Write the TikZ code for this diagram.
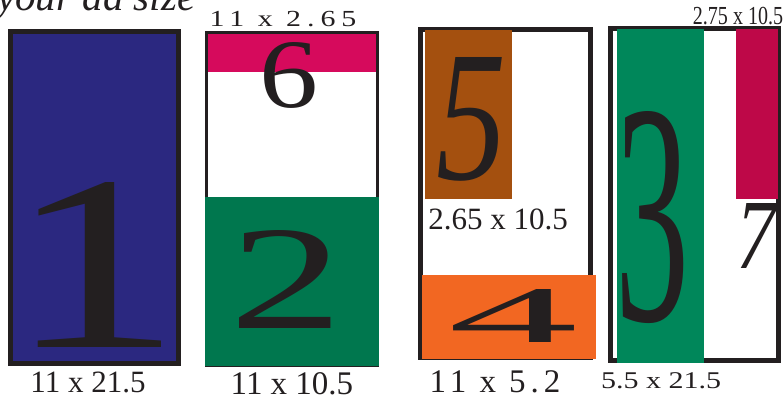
\documentclass[tikz,border=0pt]{standalone}
\usepackage{fontspec}
\setmainfont{Liberation Serif}
\usepackage{tikz}
\definecolor{inkNoir}{RGB}{35,31,32}
\definecolor{bleuNuit}{RGB}{43,40,128}
\definecolor{rosePub}{RGB}{214,10,92}
\definecolor{vertFonce}{RGB}{0,119,78}
\definecolor{brunPub}{RGB}{164,80,15}
\definecolor{orangePub}{RGB}{242,103,34}
\definecolor{vertPub}{RGB}{0,135,90}
\definecolor{rougePub}{RGB}{190,8,72}
\newcommand{\corps}[1]{\fontsize{#1}{#1}\selectfont}
\newcommand{\grandChiffre}[3]{\resizebox{#1pt}{#2pt}{\corps{100}#3}}

\begin{document}
\begin{tikzpicture}[x=1pt, y=-1pt,
  chiffre/.style={inner sep=0pt, text=inkNoir},
  cote/.style={inner sep=0pt, anchor=base, text=inkNoir}]
\useasboundingbox (0,0) rectangle (784,396);

\node[cote, anchor=base west] (titre) at (-3,11) {\corps{41}\itshape your ad size};

% box 1
\draw[fill=bleuNuit, draw=inkNoir, line width=5pt] (10.5,31.5) rectangle (178.5,363.5);
\node[chiffre] (un) at (94.5,264.5) {\grandChiffre{175}{165}{1}};
\node[cote] (coteUn) at (88,392) {\corps{31}11 x 21.5};

% box 2
\draw[draw=inkNoir, line width=3pt] (206.5,32.5) rectangle (377.5,365.5);
\fill[rosePub] (208,34) rectangle (376,72);
\fill[vertFonce] (205,197) rectangle (379,366);
\node[chiffre] (six) at (288.5,75.5) {\grandChiffre{59}{65}{6}};
\node[chiffre] (deux) at (286.5,279) {\grandChiffre{114}{98}{2}};
\node[cote] (coteSix) at (283,27) {\scalebox{1.3}[1]{\corps{23}\addfontfeatures{LetterSpace=20}11 x 2.65}};
\node[cote] (coteDeux) at (292,394) {\corps{33}11 x 10.5};

% box 3
\draw[draw=inkNoir, line width=5pt] (420.5,29.5) rectangle (590.5,357.5);
\fill[brunPub] (425,30) rectangle (512,199);
\fill[orangePub] (422,275) rectangle (596,359);
\node[chiffre] (cinq) at (471,119) {\grandChiffre{70}{122}{\itshape 5}};
\node[chiffre] (quatre) at (513.5,315.5) {\grandChiffre{130}{53}{4}};
\node[cote] (coteCinq) at (498,229) {\corps{31}2.65 x 10.5};
\node[cote] (coteQuatre) at (495,392) {\corps{33}\addfontfeatures{LetterSpace=15}11 x 5.2};

% box 4
\draw[draw=inkNoir, line width=5pt] (610.5,28.5) rectangle (778.5,360.5);
\fill[vertPub] (617,29) rectangle (704,363);
\fill[rougePub] (736,29) rectangle (778,199);
\node[chiffre] (trois) at (652.5,217.5) {\grandChiffre{74}{209}{3}};
\node[chiffre] (sept) at (756,235.5) {\grandChiffre{40}{65}{\itshape 7}};
\node[cote] (coteSept) at (738,25) {\scalebox{0.77}[1]{\corps{26}2.75 x 10.5}};
\node[cote] (coteTrois) at (661,388) {\scalebox{1.25}[1]{\corps{24}5.5 x 21.5}};

\end{tikzpicture}
\end{document}
